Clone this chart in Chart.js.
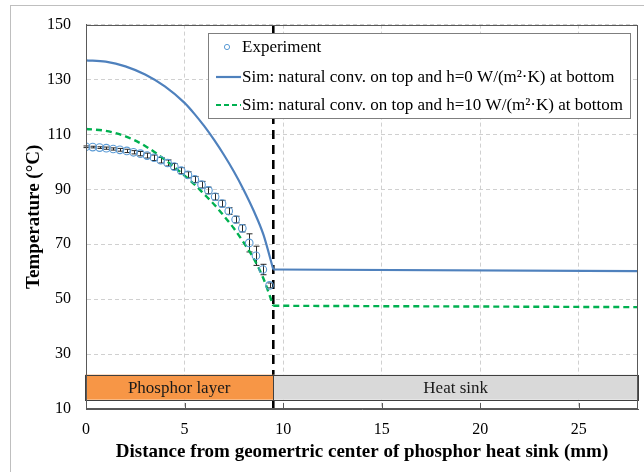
<!DOCTYPE html>
<html><head><meta charset="utf-8">
<script src="https://cdn.jsdelivr.net/npm/chart.js@4.4.0/dist/chart.umd.min.js"></script>
<style>html,body{margin:0;padding:0;background:#fff;}</style>
</head><body>
<canvas id="c" width="644" height="472"></canvas>
<script>
// ---- data ----
const expX = [0,0.34,0.69,1.03,1.38,1.72,2.07,2.41,2.76,3.1,3.45,3.79,4.14,4.48,4.83,5.17,5.52,5.86,6.21,6.55,6.9,7.24,7.59,7.93,8.28,8.62,8.97,9.31];
const expY = [105.5,105.4,105.2,105.0,104.7,104.4,104.0,103.5,103.0,102.3,101.5,100.6,99.6,98.3,96.8,95.3,93.6,91.7,89.6,87.3,84.8,82.1,79.0,75.8,70.5,65.8,60.8,55.0];
const expErr = [0.3,0.3,0.3,0.4,0.4,0.5,0.6,0.6,0.8,0.9,1.0,1.0,1.1,1.1,1.1,1.1,1.1,1.2,1.2,1.2,1.2,1.2,1.2,1.3,3.3,3.5,1.9,0.9];
const simX = [0,1,2,3,4,5,5.5,6,6.5,7,7.5,8,8.5,9,9.5];
const simH0 = [137,136.5,134.8,131.8,127.5,121.5,117.5,113,108,102.5,96.5,89.8,82.3,73.5,60.8];
const simH10 = [112,111.3,109.3,105.8,100.8,95,91.8,88.2,84.5,80.3,75.8,70.6,64.9,57.5,47.6];
const sinkX = [9.5,28];
const sinkH0 = [60.8,60.2];
const sinkH10 = [47.6,47.1];
const boundaryX = [9.5,9.5];
const boundaryY = [10,150];
const xTicks = [0,5,10,15,20,25];
const yTicks = [10,30,50,70,90,110,130,150];
const seriesNames = ['Experiment','Sim: natural conv. on top and h=0 W/(m²·K) at bottom','Sim: natural conv. on top and h=10 W/(m²·K) at bottom'];
const layerNames = ['Phosphor layer','Heat sink'];
const layerFrom = [0,9.5];
const layerTo = [9.5,28];
const layerBand = [13.4,22.5];

const pts = (xs, ys) => xs.map((x,i)=>({x:x,y:ys[i]}));
const SERIF = '"Liberation Serif", "Times New Roman", serif';
const BLUE = '#4F81BD', GREEN = '#00B050', EXP = '#5B9BD5';

const custom = {
  id:'custom',
  beforeDraw(chart){
    const ctx = chart.ctx;
    ctx.save();
    ctx.fillStyle = '#fff'; ctx.fillRect(0,0,chart.width,chart.height);
    ctx.strokeStyle = '#bfbfbf'; ctx.lineWidth = 1;
    ctx.strokeRect(10.5,5.5,800,700);
    ctx.restore();
  },
  beforeDatasetsDraw(chart){
    const ctx = chart.ctx, xs = chart.scales.x, ys = chart.scales.y;
    ctx.save();
    ctx.strokeStyle = '#262626'; ctx.lineWidth = 1;
    expX.forEach((x,i)=>{
      const px = Math.round(xs.getPixelForValue(x))+0.5;
      const y1 = ys.getPixelForValue(expY[i]+expErr[i]);
      const y2 = ys.getPixelForValue(expY[i]-expErr[i]);
      ctx.beginPath();
      ctx.moveTo(px,y1); ctx.lineTo(px,y2);
      ctx.moveTo(px-3,y1); ctx.lineTo(px+3,y1);
      ctx.moveTo(px-3,y2); ctx.lineTo(px+3,y2);
      ctx.stroke();
    });
    ctx.restore();
  },
  afterDatasetsDraw(chart){
    const ctx = chart.ctx, xs = chart.scales.x, ys = chart.scales.y, a = chart.chartArea;
    ctx.save();
    const fills = ['#F79646','#D9D9D9'];
    const top = ys.getPixelForValue(layerBand[1]), bot = ys.getPixelForValue(layerBand[0]);
    layerNames.forEach((name,i)=>{
      let l = xs.getPixelForValue(layerFrom[i]), r = xs.getPixelForValue(layerTo[i]);
      if (i===0) l -= 1;
      ctx.fillStyle = fills[i];
      ctx.fillRect(l, top, r-l, bot-top);
      ctx.strokeStyle = '#404040'; ctx.lineWidth = 1;
      ctx.strokeRect(Math.round(l)+0.5, Math.round(top)+0.5, Math.round(r-l), Math.round(bot-top));
      ctx.fillStyle = '#1a1a1a';
      ctx.font = '17px ' + SERIF;
      ctx.textAlign = 'center'; ctx.textBaseline = 'middle';
      ctx.fillText(name, (l+r)/2, (top+bot)/2 + 1);
    });
    ctx.strokeStyle = '#595959'; ctx.lineWidth = 1;
    ctx.strokeRect(Math.round(a.left)+0.5, Math.round(a.top)+0.5, Math.round(a.right-a.left)-1, Math.round(a.bottom-a.top)-1);
    ctx.beginPath();
    xTicks.forEach(v=>{
      const px = Math.round(xs.getPixelForValue(v))+0.5;
      ctx.moveTo(px, a.bottom); ctx.lineTo(px, a.bottom-6);
    });
    ctx.stroke();
    ctx.restore();
  },
  afterDraw(chart){
    const ctx = chart.ctx;
    ctx.save();
    const bx = 208.5, by = 33.5, bw = 422, bh = 85;
    ctx.fillStyle = '#fff'; ctx.fillRect(bx,by,bw,bh);
    ctx.strokeStyle = '#7f7f7f'; ctx.lineWidth = 1; ctx.strokeRect(bx,by,bw,bh);
    ctx.font = '17px ' + SERIF; ctx.fillStyle = '#000';
    ctx.textAlign = 'left'; ctx.textBaseline = 'middle';
    const rows = [47, 77, 105];
    ctx.strokeStyle = EXP; ctx.lineWidth = 1;
    ctx.beginPath(); ctx.arc(227, rows[0], 2.6, 0, Math.PI*2); ctx.stroke();
    ctx.strokeStyle = BLUE; ctx.lineWidth = 2.2;
    ctx.beginPath(); ctx.moveTo(216, rows[1]); ctx.lineTo(241, rows[1]); ctx.stroke();
    ctx.strokeStyle = GREEN; ctx.setLineDash([5,3]);
    ctx.beginPath(); ctx.moveTo(216, rows[2]); ctx.lineTo(241, rows[2]); ctx.stroke();
    ctx.setLineDash([]);
    seriesNames.forEach((t,i)=> ctx.fillText(t, 242, rows[i]+1));
    ctx.restore();
  }
};

new Chart(document.getElementById('c'), {
  type:'line',
  data:{
    datasets:[
      {label:seriesNames[0], data:pts(expX,expY), showLine:false, pointRadius:3.8, pointHoverRadius:3.8,
       pointBorderColor:EXP, pointBackgroundColor:'rgba(0,0,0,0)', pointBorderWidth:1.1},
      {label:seriesNames[1], data:pts(simX,simH0), borderColor:BLUE, borderWidth:2.2, pointRadius:0, cubicInterpolationMode:'monotone'},
      {label:seriesNames[1], data:pts(sinkX,sinkH0), borderColor:BLUE, borderWidth:2.2, pointRadius:0},
      {label:seriesNames[2], data:pts(simX,simH10), borderColor:GREEN, borderWidth:2.4, borderDash:[6,4], pointRadius:0, cubicInterpolationMode:'monotone'},
      {label:seriesNames[2], data:pts(sinkX,sinkH10), borderColor:GREEN, borderWidth:2.4, borderDash:[6,4], pointRadius:0},
      {label:'boundary', data:pts(boundaryX,boundaryY), borderColor:'#000', borderWidth:2.6, borderDash:[9,6], pointRadius:0}
    ]
  },
  options:{
    responsive:false, animation:false, devicePixelRatio:1,
    layout:{padding:{left:0,right:6,top:18,bottom:0}},
    plugins:{legend:{display:false}, tooltip:{enabled:false}},
    scales:{
      x:{type:'linear', min:0, max:28,
         afterBuildTicks:s=>{s.ticks = xTicks.map(v=>({value:v}));},
         afterFit:s=>{s.height = 63;},
         grid:{color:'#d0d0d0', drawTicks:false, lineWidth:1},
         border:{display:true, color:'#595959', width:1, dash:[4,3]},
         ticks:{padding:11, color:'#000', font:{family:SERIF, size:16}},
         title:{display:true, text:'Distance from geomertric center of phosphor heat sink (mm)', color:'#000',
                font:{family:SERIF, size:19, weight:'bold'}, padding:{top:0,bottom:9}}},
      y:{type:'linear', min:10, max:150,
         afterBuildTicks:s=>{s.ticks = yTicks.map(v=>({value:v}));},
         afterFit:s=>{s.width = 86;},
         grid:{color:'#d0d0d0', drawTicks:false, lineWidth:1},
         border:{display:true, color:'#595959', width:1, dash:[4,3]},
         ticks:{padding:15, color:'#000', font:{family:SERIF, size:16}},
         title:{display:true, text:'Temperature (°C)', color:'#000',
                font:{family:SERIF, size:19, weight:'bold'}, padding:{top:23,bottom:0}}}
    }
  },
  plugins:[custom]
});
</script>
</body></html>
